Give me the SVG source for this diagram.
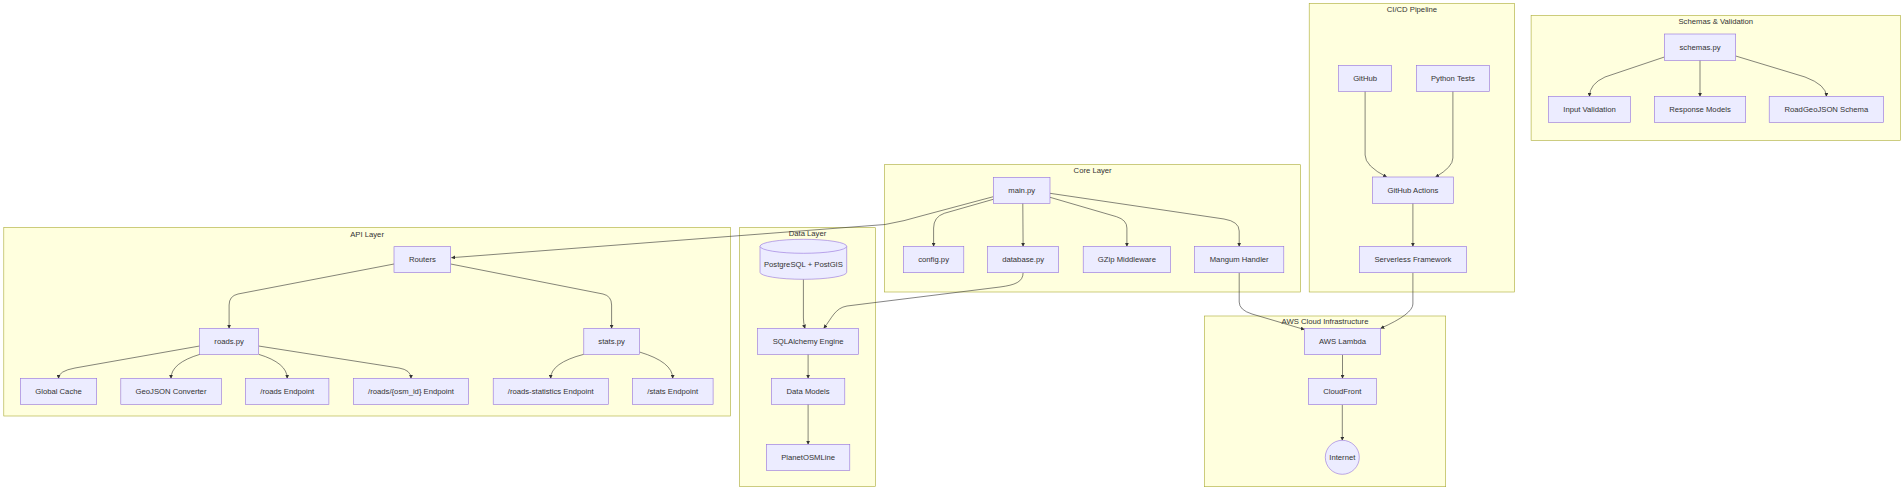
<svg xmlns="http://www.w3.org/2000/svg" width="1904" height="491" viewBox="0 0 1904 491">
<style>
.cluster rect{fill:#ffffde;stroke:#aaaa33;stroke-width:0.6}
.ctitle{font-family:"Liberation Sans",Arial,sans-serif;font-size:7.7px;fill:#333;text-anchor:middle;dominant-baseline:central}
.node rect,.node circle,.node path,.node ellipse{fill:#ECECFF;stroke:#9370DB;stroke-width:0.6}
.node text{font-family:"Liberation Sans",Arial,sans-serif;font-size:7.7px;fill:#333;text-anchor:middle;dominant-baseline:central}
.edges path{fill:none;stroke:#333;stroke-width:0.6;marker-end:url(#arr)}
</style>
<defs>
<marker id="arr" viewBox="0 0 10 10" refX="9" refY="5" markerUnits="userSpaceOnUse" markerWidth="4" markerHeight="4" orient="auto">
<path d="M0,0 L10,5 L0,10 z" fill="#333"/>
</marker>
</defs>
<rect width="1904" height="491" fill="#ffffff"/>
<g id="clusters">
<g id="cluster-api" class="cluster"><rect x="3.8" y="227.3" width="726.7" height="188.7"/><text class="ctitle" x="367.1" y="234">API Layer</text></g>
<g id="cluster-data" class="cluster"><rect x="739.6" y="227.7" width="135.8" height="258.6"/><text class="ctitle" x="807.5" y="233.3">Data Layer</text></g>
<g id="cluster-core" class="cluster"><rect x="884.6" y="164.7" width="416" height="127.3"/><text class="ctitle" x="1092.6" y="170.7">Core Layer</text></g>
<g id="cluster-cicd" class="cluster"><rect x="1309.2" y="3.3" width="205.4" height="288.7"/><text class="ctitle" x="1411.9" y="9.3">CI/CD Pipeline</text></g>
<g id="cluster-schemas" class="cluster"><rect x="1531.1" y="15.3" width="369.4" height="125"/><text class="ctitle" x="1715.8" y="21.3">Schemas &amp; Validation</text></g>
<g id="cluster-aws" class="cluster"><rect x="1204.3" y="316" width="241.4" height="170.7"/><text class="ctitle" x="1325" y="321.7">AWS Cloud Infrastructure</text></g>
</g>
<g id="connectors" class="edges">
<path d="M993.3,196.7 L921,216 Q905,221 885,224.5 L451.5,257.7"/>
<path d="M993.3,199.3 L944.3,213.3 Q933.6,217 933.6,228 L933.6,246.3"/>
<path d="M1022.8,203.3 L1023.1,246.3"/>
<path d="M1050,197.3 L1116.5,216.7 Q1126.9,220 1126.9,228 L1126.9,246.3"/>
<path d="M1050,193.3 L1224,219 Q1239.2,221.5 1239.2,231 L1239.2,246.3"/>
<path d="M1023.1,272.7 C1023.1,282 1015,285 1000,287 L847,306 C835,308 832,318 823.8,328.3"/>
<path d="M803.4,279.3 L803.4,318 Q803.4,323 805,328.3"/>
<path d="M808.1,354.3 L808.1,378.3"/>
<path d="M808.1,404.3 L808.1,444.3"/>
<path d="M394,264 L238,294 Q229.1,296 229.1,305 L229.1,328.3"/>
<path d="M450.7,264 L603,294 Q611.6,296 611.6,305 L611.6,328.3"/>
<path d="M199.6,346 L75,368 Q58.5,371 58.5,378.3"/>
<path d="M200,354.3 Q171,363 171,378.3"/>
<path d="M258.6,354.3 Q287.2,363 287.2,378.3"/>
<path d="M258.6,346 L399,368 Q411,370 411,378.3"/>
<path d="M583.8,354.3 Q550.7,363 550.7,378.3"/>
<path d="M639.5,352 Q672.7,362 672.7,378.3"/>
<path d="M1365.1,91.3 L1365.1,155 Q1365.1,166 1386.7,177"/>
<path d="M1452.9,91.3 L1452.9,158 Q1452.9,167 1435.6,177"/>
<path d="M1412.9,203.3 L1412.9,246.3"/>
<path d="M1412.9,272.7 L1412.9,304 Q1412.9,314 1380.7,328.3"/>
<path d="M1239.2,272.7 L1239.2,302 Q1239.2,310 1252,314 L1304.3,329.5"/>
<path d="M1342.5,354.7 L1342.5,378.3"/>
<path d="M1342.3,404.7 L1342.3,440.3"/>
<path d="M1664.4,57 L1605,77 Q1589.5,84 1589.5,96.3"/>
<path d="M1700,60.3 L1700,96.3"/>
<path d="M1735.7,56 L1805,77 Q1826.4,85 1826.4,96.3"/>
</g>
<g id="node-routers" class="node"><rect x="394" y="246.7" width="56.7" height="25.8"/><text x="422.4" y="259.6">Routers</text></g>
<g id="node-roads" class="node"><rect x="199.6" y="328.3" width="59" height="26"/><text x="229.1" y="341.3">roads.py</text></g>
<g id="node-stats" class="node"><rect x="583.8" y="328.3" width="55.7" height="26"/><text x="611.6" y="341.3">stats.py</text></g>
<g id="node-cache" class="node"><rect x="20.3" y="378.3" width="76.4" height="26"/><text x="58.5" y="391.3">Global Cache</text></g>
<g id="node-geojson" class="node"><rect x="120.8" y="378.3" width="100.5" height="26"/><text x="171" y="391.3">GeoJSON Converter</text></g>
<g id="node-roads-ep" class="node"><rect x="245.4" y="378.3" width="83.5" height="26"/><text x="287.2" y="391.3">/roads Endpoint</text></g>
<g id="node-roadid-ep" class="node"><rect x="353.5" y="378.3" width="115.1" height="26"/><text x="411" y="391.3">/roads/{osm_id} Endpoint</text></g>
<g id="node-roadstats-ep" class="node"><rect x="493.2" y="378.3" width="115.1" height="26"/><text x="550.7" y="391.3">/roads-statistics Endpoint</text></g>
<g id="node-stats-ep" class="node"><rect x="632.4" y="378.3" width="80.7" height="26"/><text x="672.7" y="391.3">/stats Endpoint</text></g>
<g id="node-postgres" class="node"><path d="M760,246.3 A43.35,7 0 0 1 846.7,246.3 L846.7,272.3 A43.35,7 0 0 1 760,272.3 Z"/><path d="M760,246.3 A43.35,7 0 0 0 846.7,246.3" fill="none"/><text x="803.4" y="264.3">PostgreSQL + PostGIS</text></g>
<g id="node-sqlalchemy" class="node"><rect x="757.6" y="328.3" width="101" height="26"/><text x="808.1" y="341.3">SQLAlchemy Engine</text></g>
<g id="node-models" class="node"><rect x="771.3" y="378.3" width="73.5" height="26"/><text x="808.1" y="391.3">Data Models</text></g>
<g id="node-planet" class="node"><rect x="766.4" y="444.3" width="83.4" height="26"/><text x="808.1" y="457.3">PlanetOSMLine</text></g>
<g id="node-main" class="node"><rect x="993.3" y="177.3" width="56.7" height="26"/><text x="1021.7" y="190.3">main.py</text></g>
<g id="node-config" class="node"><rect x="903.4" y="246.3" width="60.4" height="26.4"/><text x="933.6" y="259.5">config.py</text></g>
<g id="node-database" class="node"><rect x="987.6" y="246.3" width="71.1" height="26.4"/><text x="1023.1" y="259.5">database.py</text></g>
<g id="node-gzip" class="node"><rect x="1083.2" y="246.3" width="87.3" height="26.4"/><text x="1126.9" y="259.5">GZip Middleware</text></g>
<g id="node-mangum" class="node"><rect x="1194.6" y="246.3" width="89.2" height="26.4"/><text x="1239.2" y="259.5">Mangum Handler</text></g>
<g id="node-github" class="node"><rect x="1338.5" y="65.3" width="53.2" height="26"/><text x="1365.1" y="78.3">GitHub</text></g>
<g id="node-pytests" class="node"><rect x="1416.3" y="65.3" width="73.2" height="26"/><text x="1452.9" y="78.3">Python Tests</text></g>
<g id="node-actions" class="node"><rect x="1372.4" y="177" width="80.9" height="26.3"/><text x="1412.9" y="190.2">GitHub Actions</text></g>
<g id="node-serverless" class="node"><rect x="1359.3" y="246.3" width="107.3" height="26.4"/><text x="1412.9" y="259.5">Serverless Framework</text></g>
<g id="node-lambda" class="node"><rect x="1304.3" y="328.3" width="76.4" height="26.4"/><text x="1342.5" y="341.5">AWS Lambda</text></g>
<g id="node-cloudfront" class="node"><rect x="1308.3" y="378.3" width="68" height="26.4"/><text x="1342.3" y="391.5">CloudFront</text></g>
<g id="node-internet" class="node"><circle cx="1342.3" cy="457.3" r="17"/><text x="1342.3" y="457.3">Internet</text></g>
<g id="node-schemas" class="node"><rect x="1664.4" y="34" width="71.3" height="26.3"/><text x="1700" y="47.2">schemas.py</text></g>
<g id="node-input" class="node"><rect x="1548.5" y="96.3" width="82" height="26"/><text x="1589.5" y="109.3">Input Validation</text></g>
<g id="node-response" class="node"><rect x="1654.4" y="96.3" width="91.3" height="26"/><text x="1700" y="109.3">Response Models</text></g>
<g id="node-roadgeojson" class="node"><rect x="1769.2" y="96.3" width="114.4" height="26"/><text x="1826.4" y="109.3">RoadGeoJSON Schema</text></g>
</svg>
